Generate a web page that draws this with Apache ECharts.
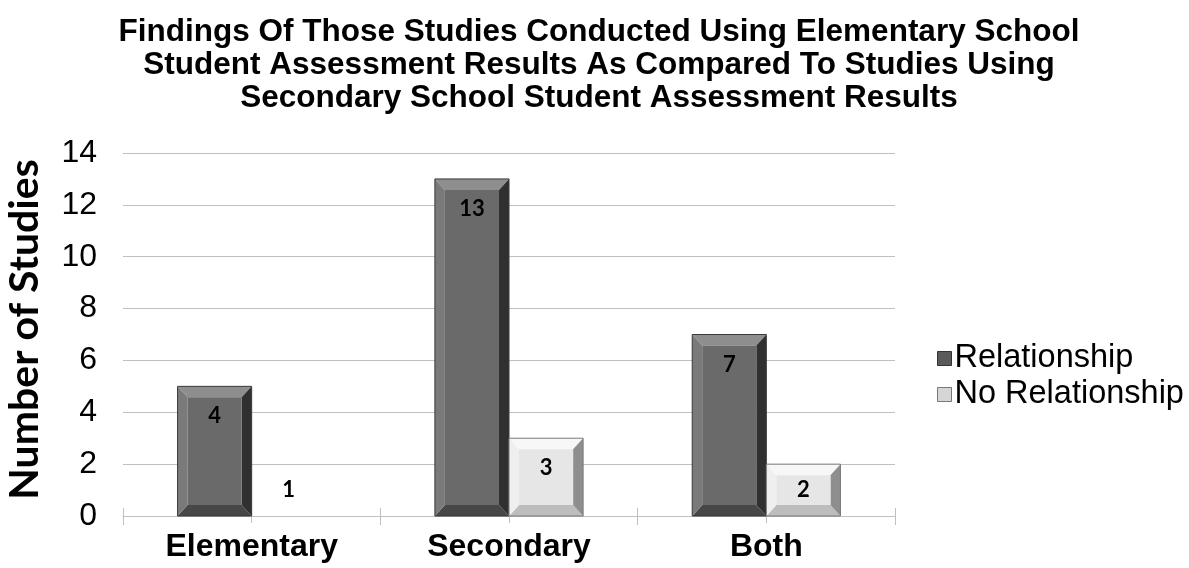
<!DOCTYPE html>
<html style="height: 100%">
<head>
<meta charset="UTF-8" />
<title>Findings by school level</title>
<style>
html, body { margin: 0; padding: 0; background: #ffffff; }
#chartBox { width: 1189px; height: 568px; }
</style>
</head>
<body>
	<div id="chartBox"></div>

	<script src="https://cdn.jsdelivr.net/npm/echarts@6/dist/echarts.min.js"></script>
	<script>
		// chart data
		var categories = ['Elementary', 'Secondary', 'Both'];
		var seriesNames = ['Relationship', 'No Relationship'];
		var relValues = [5, 13, 7];      // bar heights as drawn
		var noRelValues = [0, 3, 2];
		var relLabels = ['4', '13', '7'];    // data labels as printed
		var noRelLabels = ['1', '3', '2'];
		var yTicks = [0, 14, 2];           // min, max, step

		var titleText = 'Findings Of Those Studies Conducted Using Elementary School\n'
			+ 'Student Assessment Results As Compared To Studies Using\n'
			+ 'Secondary School Student Assessment Results';

		var myChart = echarts.init(document.getElementById('chartBox'));

		// bevel palettes: face, top, left, right, bottom, outline
		var palettes = [
			{ face: '#6a6a6a', top: '#8e8e8e', left: '#7a7a7a', right: '#303030', bottom: '#474747', line: '#3a3a3a' },
			{ face: '#e6e6e6', top: '#f7f7f7', left: '#efefef', right: '#8e8e8e', bottom: '#bdbdbd', line: '#7a7a7a' }
		];

		var makeRender = function(s, labels) {
			return function(params, api) {
				var idx = api.value(0);
				var val = api.value(1);
				var base = api.coord([idx, 0]);
				var top = api.coord([idx, val]);
				var bw = api.size([1, 0])[0] * 0.288;
				var x0 = s === 0 ? base[0] - bw : base[0];
				var x1 = x0 + bw;
				var y0 = top[1], y1 = base[1];
				var h = y1 - y0;
				var p = palettes[s];
				var children = [];
				if (h > 0) {
					var bt = Math.min(11, h / 2), bs = Math.min(10, bw / 2);
					children.push({ type: 'polygon', shape: { points: [[x0, y0], [x1, y0], [x1 - bs, y0 + bt], [x0 + bs, y0 + bt]] }, style: { fill: p.top } });
					children.push({ type: 'polygon', shape: { points: [[x0, y1], [x1, y1], [x1 - bs, y1 - bt], [x0 + bs, y1 - bt]] }, style: { fill: p.bottom } });
					children.push({ type: 'polygon', shape: { points: [[x0, y0], [x0 + bs, y0 + bt], [x0 + bs, y1 - bt], [x0, y1]] }, style: { fill: p.left } });
					children.push({ type: 'polygon', shape: { points: [[x1, y0], [x1 - bs, y0 + bt], [x1 - bs, y1 - bt], [x1, y1]] }, style: { fill: p.right } });
					children.push({ type: 'rect', shape: { x: x0 + bs, y: y0 + bt, width: bw - 2 * bs, height: Math.max(0, h - 2 * bt) }, style: { fill: p.face } });
					children.push({ type: 'rect', shape: { x: x0, y: y0, width: bw, height: h }, style: { fill: 'none', stroke: p.line, lineWidth: 1 } });
				}
				children.push({
					type: 'text',
					style: {
						text: labels[idx],
						x: (x0 + x1) / 2,
						y: Math.min(y0 + 30, y1 - 26),
						align: 'center',
						verticalAlign: 'middle',
						fontFamily: 'Lato',
						fontWeight: 'bold',
						fontSize: 22,
						fill: '#000'
					}
				});
				return { type: 'group', children: children };
			};
		};

		var toData = function(arr) {
			var res = [];
			for (var i = 0; i < arr.length; i++) {
				res.push([i, arr[i]]);
			}
			return res;
		};

		var axisGray = '#bfbfbf';
		var tickCats = ['a', 'b', 'c', 'd', 'e', 'f'];

		option = {
			animation: false,
			title: {
				text: titleText,
				left: 594,
				top: 11,
				textAlign: 'center',
				textStyle: {
					fontFamily: 'Liberation Sans',
					fontWeight: 'bold',
					fontSize: 31.5,
					lineHeight: 33,
					color: '#000'
				}
			},
			legend: {
				orient: 'vertical',
				left: 932,
				top: 337,
				itemWidth: 14,
				itemHeight: 14,
				itemGap: 3,
				textStyle: { fontFamily: 'Liberation Sans', fontSize: 32.5, color: '#000', padding: [0, 0, 0, -2] },
				data: [
					{ name: seriesNames[0], icon: 'rect', itemStyle: { color: '#5a5a5a', borderColor: '#333', borderWidth: 1 } },
					{ name: seriesNames[1], icon: 'rect', itemStyle: { color: '#d6d6d6', borderColor: '#777', borderWidth: 1 } }
				]
			},
			grid: { left: 123, right: 294, top: 153, bottom: 52, containLabel: false, outerBoundsMode: 'none' },
			xAxis: [{
				type: 'category',
				data: categories,
				position: 'bottom',
				axisLine: { lineStyle: { color: axisGray } },
				axisTick: { show: true, length: 9, lineStyle: { color: axisGray } },
				axisLabel: { fontFamily: 'Liberation Sans', fontWeight: 'bold', fontSize: 32, color: '#000', margin: 15 }
			}, {
				type: 'category',
				data: tickCats,
				position: 'bottom',
				axisLine: { show: false },
				axisTick: { show: true, inside: true, length: 8, lineStyle: { color: axisGray } },
				axisLabel: { show: false }
			}, {
				type: 'category',
				data: tickCats,
				position: 'bottom',
				axisLine: { show: false },
				axisTick: { show: true, length: 7, lineStyle: { color: axisGray } },
				axisLabel: { show: false }
			}],
			yAxis: {
				type: 'value',
				min: yTicks[0],
				max: yTicks[1],
				interval: yTicks[2],
				name: 'Number of Studies',
				nameLocation: 'middle',
				nameGap: 78,
				nameTextStyle: { fontFamily: 'Lato', fontWeight: 'bold', fontSize: 41, color: '#000', padding: [0, 0, 0, 10] },
				axisLine: { show: false },
				axisTick: { show: false },
				axisLabel: { fontFamily: 'Liberation Sans', fontSize: 32, color: '#000', margin: 26 },
				splitLine: { lineStyle: { color: axisGray } }
			},
			series: [{
				name: seriesNames[0],
				type: 'custom',
				xAxisIndex: 0,
				renderItem: makeRender(0, relLabels),
				itemStyle: { color: '#5a5a5a' },
				encode: { x: 0, y: 1 },
				data: toData(relValues),
				z: 3
			}, {
				name: seriesNames[1],
				type: 'custom',
				xAxisIndex: 0,
				renderItem: makeRender(1, noRelLabels),
				itemStyle: { color: '#d6d6d6' },
				encode: { x: 0, y: 1 },
				data: toData(noRelValues),
				z: 3
			}]
		};
		myChart.setOption(option);
	</script>
</body>
</html>
